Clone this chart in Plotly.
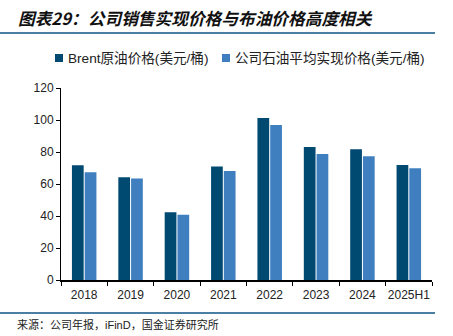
import plotly.graph_objects as go

categories = ["2018", "2019", "2020", "2021", "2022", "2023", "2024", "2025H1"]
brent = [71.7, 64.2, 42.3, 71.0, 101.2, 83.1, 81.7, 71.9]
realized = [67.3, 63.5, 40.8, 68.1, 96.9, 78.8, 77.3, 69.8]
series_names = ["Brent原油价格(美元/桶)", "公司石油平均实现价格(美元/桶)"]
title_text = "图表29：公司销售实现价格与布油价格高度相关"
source_text = "来源：公司年报，iFinD，国金证券研究所"

W, H = 453, 336
L, R, T, B = 61, 432, 88, 280
dark = "#004a72"
light = "#3f7fbf"
line_col = "#4a7fa3"
font_fam = "Liberation Sans, Arial, Noto Sans CJK SC, sans-serif"

def px(x):
    return (x - L) / (R - L)

def py(y):
    return (B - y) / (B - T)

fig = go.Figure()
fig.add_trace(go.Bar(x=categories, y=brent, name=series_names[0], marker_color=dark, marker_line_width=0))
fig.add_trace(go.Bar(x=categories, y=realized, name=series_names[1], marker_color=light, marker_line_width=0))

shapes = [
    dict(type="line", xref="paper", yref="paper", x0=px(0), x1=px(435), y0=py(33), y1=py(33),
         line=dict(color=line_col, width=2)),
    dict(type="line", xref="paper", yref="paper", x0=px(0), x1=px(435), y0=py(313), y1=py(313),
         line=dict(color=line_col, width=2)),
    dict(type="rect", xref="paper", yref="paper", x0=px(55), x1=px(63), y0=py(62), y1=py(54),
         fillcolor=dark, line_width=0),
    dict(type="rect", xref="paper", yref="paper", x0=px(222), x1=px(230), y0=py(62), y1=py(54),
         fillcolor=light, line_width=0),
]

annotations = [
    dict(text="<b><i>" + title_text + "</i></b>", xref="paper", yref="paper", x=px(16), y=py(18),
         xanchor="left", yanchor="middle", showarrow=False,
         font=dict(family="Noto Sans CJK SC, sans-serif", size=16.7, color="#111111")),
    dict(text=series_names[0], xref="paper", yref="paper", x=px(66), y=py(58),
         xanchor="left", yanchor="middle", showarrow=False,
         font=dict(family=font_fam, size=13.6, color="#222222")),
    dict(text=series_names[1], xref="paper", yref="paper", x=px(233), y=py(58),
         xanchor="left", yanchor="middle", showarrow=False,
         font=dict(family=font_fam, size=13.6, color="#222222")),
    dict(text=source_text, xref="paper", yref="paper", x=px(15), y=py(324),
         xanchor="left", yanchor="middle", showarrow=False,
         font=dict(family=font_fam, size=11, color="#222222")),
]

fig.update_layout(
    width=W, height=H,
    margin=dict(l=L, r=W - R, t=T, b=H - B, pad=0),
    paper_bgcolor="white", plot_bgcolor="white",
    barmode="group", bargap=0.45, bargroupgap=0.08,
    showlegend=False,
    shapes=shapes, annotations=annotations,
    font=dict(family=font_fam, size=12, color="#222222"),
)
fig.update_xaxes(type="category", showline=True, linecolor="black", linewidth=1.5,
                 ticks="outside", tickson="boundaries", ticklen=4, tickcolor="black",
                 tickangle=0, ticklabelstandoff=3, showgrid=False,
                 tickfont=dict(size=12, color="#222222"))
fig.update_yaxes(range=[0, 120], dtick=20, showline=True, linecolor="black", linewidth=1,
                 ticks="outside", ticklen=4, tickcolor="black", showgrid=False, zeroline=False,
                 tickfont=dict(size=12, color="#222222"))

fig.write_html("out.html")
